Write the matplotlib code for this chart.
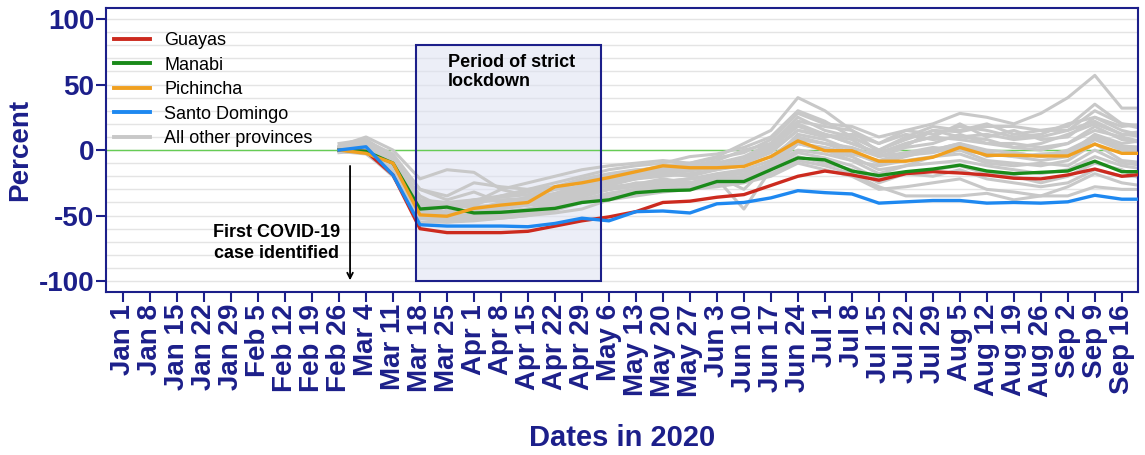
import matplotlib
matplotlib.use("Agg")
import matplotlib.pyplot as plt
from matplotlib.patches import Rectangle
from matplotlib.lines import Line2D

plt.rcParams['font.family'] = ['Liberation Sans', 'DejaVu Sans']
plt.rcParams['axes.unicode_minus'] = False

# weekly tick labels
weeks = ['Jan 1', 'Jan 8', 'Jan 15', 'Jan 22', 'Jan 29', 'Feb 5', 'Feb 12', 'Feb 19',
         'Feb 26', 'Mar 4', 'Mar 11', 'Mar 18', 'Mar 25', 'Apr 1', 'Apr 8', 'Apr 15',
         'Apr 22', 'Apr 29', 'May 6', 'May 13', 'May 20', 'May 27', 'Jun 3', 'Jun 10',
         'Jun 17', 'Jun 24', 'Jul 1', 'Jul 8', 'Jul 15', 'Jul 22', 'Jul 29', 'Aug 5',
         'Aug 12', 'Aug 19', 'Aug 26', 'Sep 2', 'Sep 9', 'Sep 16']

# series start at Feb 26 (week 8) and run one week past Sep 16
start_week = 8

guayas = [0, -1, -19, -60, -63, -63, -63, -62, -58, -54, -51, -47, -40, -39, -36, -34,
          -27, -20, -16, -19, -23, -18, -16.5, -17.5, -19, -21.5, -22, -19, -14.5, -20, -18]
manabi = [0, -1, -10, -45, -43.5, -48, -47.5, -46, -44.5, -40, -38, -32.5, -31, -30.5, -24, -24,
          -15, -6, -7.5, -16, -19.5, -16.5, -14.5, -11.5, -16, -18, -17, -16, -8.5, -16.5, -16.5]
pichincha = [0, -2.5, -10, -49.5, -50.5, -44.5, -42, -40, -28, -25, -21, -16.5, -12, -13.5, -13.5, -12.5,
             -5, 7, -0.5, -0.5, -8.5, -8.5, -5.5, 2, -4, -4, -4.5, -4.5, 4.5, -2.5, -2.5]
santo_domingo = [0, 2.5, -19, -57, -58, -58, -58, -58.5, -56, -52, -54, -47, -46.5, -48, -41, -40,
                 -36.5, -31, -32.5, -33.5, -40.5, -39.5, -38.5, -38.5, -40.5, -40, -40.5, -39.5, -34.5, -37.5, -37.5]

others = [
    [3, 10, 0, -22, -15, -17, -30, -25, -20, -15, -12, -10, -8, -10, -5, 5, 15, 40, 30, 15, 5, 15, 20, 28, 25, 20, 28, 40, 57, 32, 32],
    [5, 8, -5, -30, -35, -25, -28, -30, -25, -20, -15, -12, -10, -5, -3, 2, 10, 30, 22, 10, 0, 10, 18, 15, 20, 12, 15, 18, 35, 20, 18],
    [2, 6, -10, -38, -40, -42, -35, -32, -28, -22, -18, -15, -14, -12, -8, 0, 5, 22, 18, 15, -2, 5, 10, 20, 10, 15, 8, 10, 25, 15, 10],
    [0, 4, -12, -45, -48, -45, -40, -38, -35, -30, -25, -20, -18, -20, -15, -10, 0, 15, 10, 12, 5, 12, 8, 10, 8, 2, 5, 12, 20, 12, 10],
    [1, 2, -15, -48, -50, -50, -48, -45, -40, -35, -30, -26, -22, -25, -20, -30, -10, 8, 5, -2, -10, -5, 0, 5, 0, -2, -5, 0, 10, 2, 0],
    [-2, 0, -18, -50, -52, -52, -50, -48, -45, -38, -33, -30, -28, -25, -22, -45, -15, 5, 0, -5, -15, -12, -5, 0, -8, -10, -12, -8, 5, -8, -10],
    [0, 5, -5, -35, -45, -40, -30, -35, -38, -32, -27, -22, -18, -15, -12, -8, 2, 18, 12, 8, -5, 2, 5, 12, 5, 5, 2, 5, 15, 10, 5],
    [1, 3, -10, -40, -48, -46, -44, -40, -36, -30, -28, -26, -24, -22, -18, -15, -8, 12, 8, 0, -10, -4, -2, 3, -2, -5, -8, -5, 8, 0, -2],
    [-1, -2, -20, -55, -55, -54, -52, -50, -46, -40, -36, -32, -30, -30, -25, -22, -15, -5, -10, -15, -25, -18, -20, -15, -22, -25, -28, -25, -15, -20, -20],
    [0, 1, -15, -52, -55, -53, -52, -50, -48, -45, -38, -35, -32, -30, -28, -25, -20, -10, -15, -20, -30, -28, -25, -22, -30, -32, -35, -28, -18, -25, -28],
    [2, 4, -6, -40, -42, -38, -35, -30, -28, -25, -22, -18, -15, -12, -10, -5, 5, 25, 15, 10, 0, 8, 15, 10, 12, 8, 10, 15, 30, 20, 15],
    [0, 2, -12, -44, -47, -47, -45, -42, -38, -33, -30, -25, -25, -22, -20, -18, -10, 5, 2, -3, -8, -2, 2, 0, -3, -5, -3, -2, 10, 3, 2],
    [1, 3, -8, -42, -44, -43, -42, -40, -35, -28, -24, -20, -18, -16, -13, -10, -2, 15, 12, 5, -3, 5, 10, 8, 5, 2, 0, 5, 18, 8, 5],
    [-1, -3, -18, -52, -53, -52, -50, -48, -45, -40, -35, -33, -30, -28, -26, -24, -18, -8, -12, -18, -28, -35, -35, -35, -33, -38, -35, -35, -28, -30, -30],
    [0, 0, -14, -48, -50, -49, -47, -45, -42, -36, -30, -28, -26, -25, -22, -20, -12, 0, -3, -8, -18, -12, -10, -8, -12, -15, -18, -15, -5, -12, -15],
    [2, 7, -3, -30, -38, -32, -40, -36, -30, -24, -20, -16, -12, -10, -6, -2, 8, 28, 20, 18, 10, 15, 12, 18, 15, 10, 12, 20, 25, 18, 20],
    [0, 2, -10, -46, -48, -46, -44, -42, -40, -34, -30, -27, -24, -22, -20, -16, -12, 5, 0, -8, -12, -8, -5, -3, -10, -12, -10, -12, 0, -10, -12],
    [1, 5, -8, -38, -42, -40, -38, -37, -33, -27, -23, -20, -16, -14, -10, -6, 3, 20, 12, 5, -2, 3, 15, 14, 18, 18, 15, 15, 22, 12, 15],
    [-1, 0, -16, -50, -52, -50, -49, -47, -44, -38, -33, -30, -28, -26, -24, -20, -14, -2, -6, -12, -22, -18, -15, -12, -18, -20, -25, -20, -10, -15, -25],
    [0, 3, -12, -45, -40, -38, -36, -34, -30, -28, -25, -22, -20, -18, -15, -12, -5, 10, 5, 2, -5, -2, 0, 5, -5, -2, -5, -3, 12, 5, 8],
]

navy = '#1c1f8a'
grey = '#c8c8c8'

fig = plt.figure(figsize=(11.45, 4.55), dpi=100)
ax = fig.add_axes([0.0926, 0.358, 0.9013, 0.6244])

x = list(range(start_week, start_week + len(guayas)))

for y in range(-100, 101, 10):
    ax.axhline(y, color='#e4e4e4', lw=1, zorder=0)
ax.axhline(0, color='#66cc55', lw=1, zorder=1)

ax.add_patch(Rectangle((10.84, -100), 6.86, 180, facecolor='#dde1f1', alpha=0.55,
                       edgecolor='none', zorder=0.5))
ax.add_patch(Rectangle((10.84, -100), 6.86, 180, facecolor='none',
                       edgecolor=navy, lw=1.5, zorder=5))

for s in others:
    ax.plot(x, s, color=grey, lw=2.2, zorder=2)
ax.plot(x, guayas, color='#cc2a1e', lw=2.4, zorder=3)
ax.plot(x, manabi, color='#1a8a1a', lw=2.4, zorder=3)
ax.plot(x, pichincha, color='#f0a020', lw=2.4, zorder=3)
ax.plot(x, santo_domingo, color='#1e88f0', lw=2.4, zorder=3)

ax.text(12.03, 59.5, 'Period of strict\nlockdown', fontsize=13, fontweight='bold',
        ha='left', va='center', linespacing=1.2, zorder=6)
ax.text(5.67, -71, 'First COVID-19\ncase identified', fontsize=13, fontweight='bold',
        ha='center', va='center', linespacing=1.25, zorder=6)
ax.annotate('', xy=(8.41, -101.5), xytext=(8.41, -10),
            arrowprops=dict(arrowstyle='->', color='black', lw=1.3), zorder=6)

ax.set_xlim(-0.63, 37.6)
ax.set_ylim(-108.4, 108.4)
ax.set_xticks(range(len(weeks)))
ax.set_xticklabels(weeks, rotation=90)
ax.set_yticks([-100, -50, 0, 50, 100])
ax.tick_params(axis='both', colors=navy, labelcolor=navy, length=7, width=1.5,
               labelsize=20, pad=1.5)
for lbl in ax.get_xticklabels() + ax.get_yticklabels():
    lbl.set_fontweight('bold')
for sp in ax.spines.values():
    sp.set_color(navy)
    sp.set_linewidth(1.5)

ax.set_ylabel('Percent', fontsize=20, fontweight='bold', color=navy, labelpad=4)
fig.text(0.5432, 1 - 438 / 455, 'Dates in 2020', fontsize=21, fontweight='bold',
         color=navy, ha='center', va='center')

handles = [Line2D([], [], color=c, lw=2.8) for c in
           ['#cc2a1e', '#1a8a1a', '#f0a020', '#1e88f0', grey]]
names = ['Guayas', 'Manabi', 'Pichincha', 'Santo Domingo', 'All other provinces']
ax.legend(handles, names, loc='upper left', bbox_to_anchor=(-0.005, 0.96), frameon=False,
          fontsize=13, handlelength=2.0, handletextpad=0.8, labelspacing=0.42,
          borderaxespad=0.3)

fig.savefig('out.png', dpi=100)
